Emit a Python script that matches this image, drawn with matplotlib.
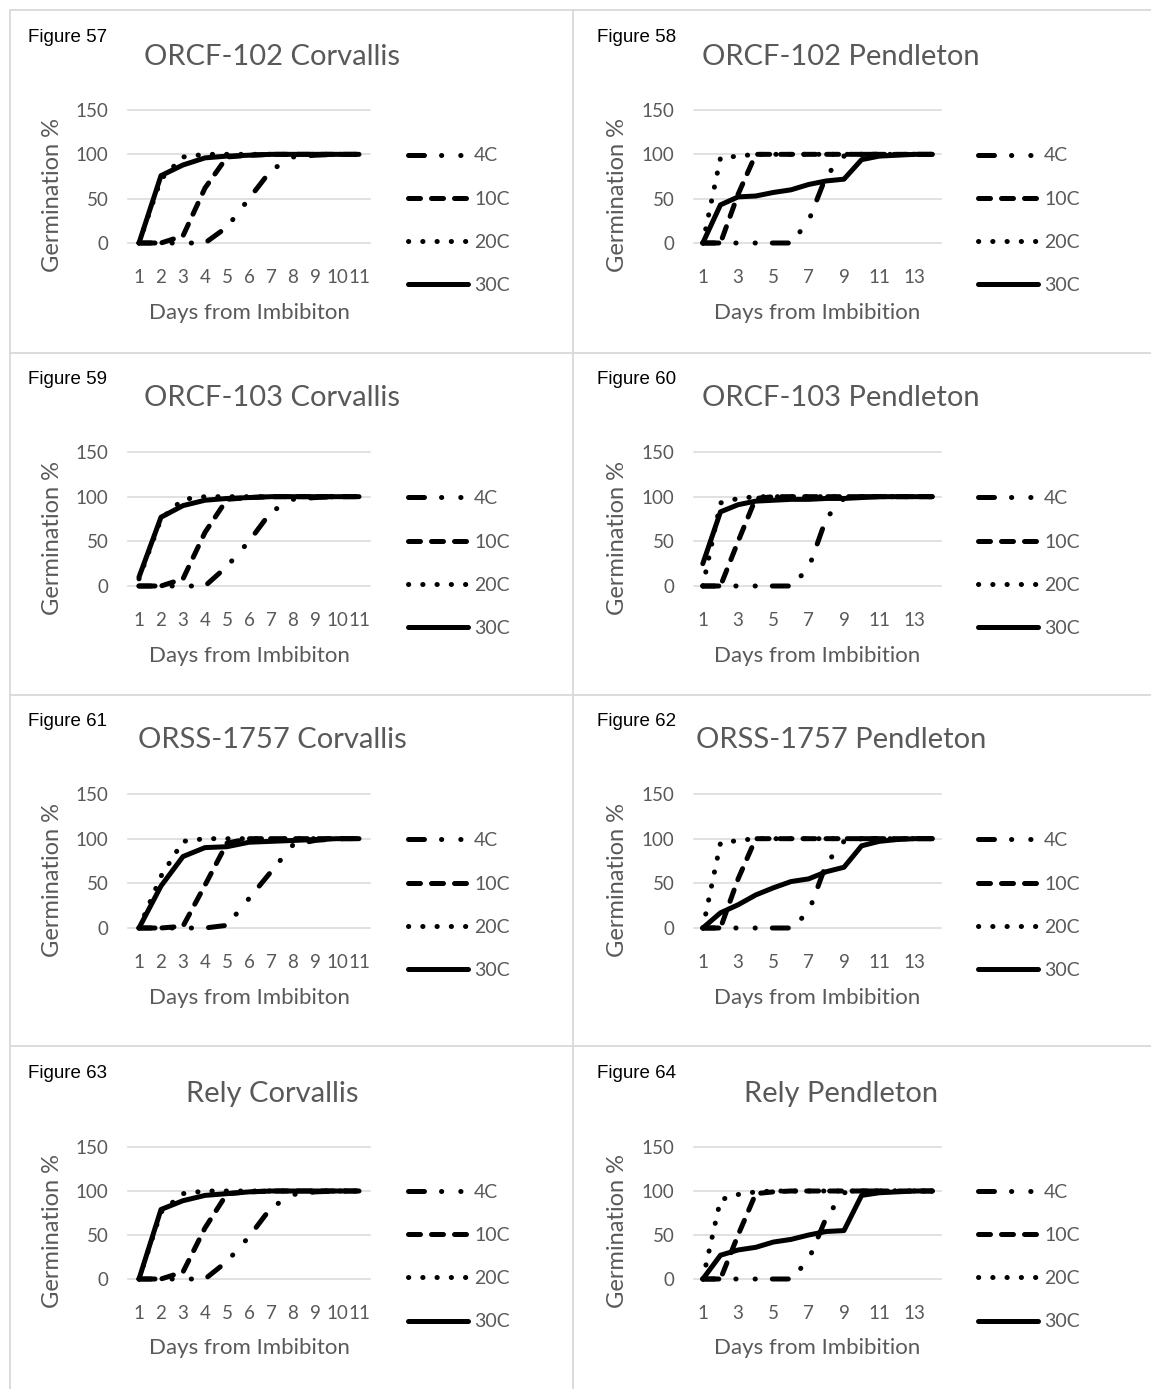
import matplotlib
matplotlib.use("Agg")
import matplotlib.pyplot as plt
from matplotlib.lines import Line2D

W, H = 1151, 1389
GRAY = "#595959"
GRID = "#d9d9d9"
plt.rcParams["font.family"] = ["Lato", "DejaVu Sans"]

# ---- data -------------------------------------------------------------
temps = ["4C", "10C", "20C", "30C"]
days_11 = [1, 2, 3, 4, 5, 6, 7, 8, 9, 10, 11]
days_14 = [1, 2, 3, 4, 5, 6, 7, 8, 9, 10, 11, 12, 13, 14]

fig57_4c = [0, 0, 0, 0, 18, 50, 82, 97, 99, 100, 100]
fig57_10c = [0, 0, 8, 62, 97, 99, 100, 100, 100, 100, 100]
fig57_20c = [0, 72, 97, 100, 100, 100, 100, 100, 100, 100, 100]
fig57_30c = [0, 76, 88, 96, 98, 99, 100, 100, 100, 100, 100]

fig58_4c = [0, 0, 0, 0, 0, 0, 25, 76, 98, 100, 100, 100, 100, 100]
fig58_10c = [0, 0, 55, 100, 100, 100, 100, 100, 100, 100, 100, 100, 100, 100]
fig58_20c = [0, 96, 98, 100, 100, 100, 100, 100, 100, 100, 100, 100, 100, 100]
fig58_30c = [0, 43, 52, 53, 57, 60, 66, 70, 72, 94, 98, 99, 100, 100]

fig59_4c = [0, 0, 0, 0, 22, 50, 83, 97, 99, 100, 100]
fig59_10c = [0, 0, 8, 60, 97, 99, 100, 100, 100, 100, 100]
fig59_20c = [8, 75, 97, 100, 100, 100, 100, 100, 100, 100, 100]
fig59_30c = [10, 77, 90, 96, 98, 99, 100, 100, 100, 100, 100]

fig60_4c = [0, 0, 0, 0, 0, 0, 20, 76, 98, 100, 100, 100, 100, 100]
fig60_10c = [0, 0, 50, 98, 100, 100, 100, 100, 100, 100, 100, 100, 100, 100]
fig60_20c = [0, 93, 98, 100, 100, 100, 100, 100, 100, 100, 100, 100, 100, 100]
fig60_30c = [25, 83, 91, 95, 96, 97, 97, 98, 98, 99, 100, 100, 100, 100]

fig61_4c = [0, 0, 0, 0, 3, 33, 63, 93, 98, 100, 100]
fig61_10c = [0, 0, 2, 48, 95, 100, 100, 100, 100, 100, 100]
fig61_20c = [0, 58, 97, 100, 100, 100, 100, 100, 100, 100, 100]
fig61_30c = [0, 47, 80, 90, 91, 96, 97, 98, 99, 100, 100]

fig62_4c = [0, 0, 0, 0, 0, 0, 18, 72, 97, 100, 100, 100, 100, 100]
fig62_10c = [0, 0, 55, 100, 100, 100, 100, 100, 100, 100, 100, 100, 100, 100]
fig62_20c = [0, 95, 98, 100, 100, 100, 100, 100, 100, 100, 100, 100, 100, 100]
fig62_30c = [0, 17, 26, 37, 45, 52, 55, 63, 68, 92, 97, 99, 100, 100]

fig63_4c = [0, 0, 0, 0, 20, 48, 81, 96, 99, 100, 100]
fig63_10c = [0, 0, 8, 58, 97, 99, 100, 100, 100, 100, 100]
fig63_20c = [0, 76, 97, 100, 100, 100, 100, 100, 100, 100, 100]
fig63_30c = [0, 79, 89, 95, 97, 99, 100, 100, 100, 100, 100]

fig64_4c = [0, 0, 0, 0, 0, 0, 22, 70, 98, 100, 100, 100, 100, 100]
fig64_10c = [0, 0, 50, 97, 99, 100, 100, 100, 100, 100, 100, 100, 100, 100]
fig64_20c = [0, 90, 96, 99, 100, 100, 100, 100, 100, 100, 100, 100, 100, 100]
fig64_30c = [0, 27, 33, 36, 42, 45, 50, 54, 55, 95, 98, 99, 100, 100]

# (figure label, title, x label, days, series, column, row)
panels = [
    ("Figure 57", "ORCF-102 Corvallis", "Days from Imbibiton", days_11,
     [fig57_4c, fig57_10c, fig57_20c, fig57_30c], 0, 0),
    ("Figure 58", "ORCF-102 Pendleton", "Days from Imbibition", days_14,
     [fig58_4c, fig58_10c, fig58_20c, fig58_30c], 1, 0),
    ("Figure 59", "ORCF-103 Corvallis", "Days from Imbibiton", days_11,
     [fig59_4c, fig59_10c, fig59_20c, fig59_30c], 0, 1),
    ("Figure 60", "ORCF-103 Pendleton", "Days from Imbibition", days_14,
     [fig60_4c, fig60_10c, fig60_20c, fig60_30c], 1, 1),
    ("Figure 61", "ORSS-1757 Corvallis", "Days from Imbibiton", days_11,
     [fig61_4c, fig61_10c, fig61_20c, fig61_30c], 0, 2),
    ("Figure 62", "ORSS-1757 Pendleton", "Days from Imbibition", days_14,
     [fig62_4c, fig62_10c, fig62_20c, fig62_30c], 1, 2),
    ("Figure 63", "Rely Corvallis", "Days from Imbibiton", days_11,
     [fig63_4c, fig63_10c, fig63_20c, fig63_30c], 0, 3),
    ("Figure 64", "Rely Pendleton", "Days from Imbibition", days_14,
     [fig64_4c, fig64_10c, fig64_20c, fig64_30c], 1, 3),
]

# ---- layout (pixels) ---------------------------------------------------
col_x = [(128, 370), (694, 941)]
col_legend_x = [408, 978]
col_figlabel_x = [28, 597]
row_y = [(110, 243), (452, 586), (794, 928), (1147, 1279)]
styles = [
    (0, (3.2, 3.4, 0.05, 3.8, 0.05, 3.4)),
    (0, (2.4, 2.2)),
    (0, (0.05, 2.8)),
    "solid",
]

fig = plt.figure(figsize=(W / 100, H / 100), dpi=100)

# cell borders
border = dict(color=GRID, lw=1.3, transform=fig.transFigure)
def hline(y, x0, x1):
    fig.add_artist(Line2D([x0 / W, x1 / W], [1 - y / H, 1 - y / H], **border))
def vline(x, y0, y1):
    fig.add_artist(Line2D([x / W, x / W], [1 - y0 / H, 1 - y1 / H], **border))

for y in [10, 353, 695, 1046]:
    hline(y, 10, W)
vline(10, 10, H)
vline(573, 10, H)

for figlabel, title, xlabel, days, series, col, row in panels:
    x0, x1 = col_x[col]
    ytop, ybot = row_y[row]
    ax = fig.add_axes([x0 / W, 1 - ybot / H, (x1 - x0) / W, (ybot - ytop) / H])
    for vals, ls, name in zip(series, styles, temps):
        ax.plot(days, vals, color="black", lw=3.6, linestyle=ls,
                dash_capstyle="round", solid_capstyle="round",
                solid_joinstyle="round", clip_on=False, label=name)
    ax.set_xlim(0.5, len(days) + 0.5)
    ax.set_ylim(0, 150)
    ax.set_yticks([0, 50, 100, 150])
    if len(days) > 11:
        ax.set_xticks(days[::2])
    else:
        ax.set_xticks(days)
    ax.grid(axis="y", color=GRID, lw=1.1)
    for gl in ax.get_ygridlines():
        gl.set_clip_on(False)
    ax.set_axisbelow(True)
    for s in ax.spines.values():
        s.set_visible(False)
    ax.tick_params(axis="both", length=0, labelsize=13.5, labelcolor=GRAY)
    ax.tick_params(axis="y", pad=14)
    ax.tick_params(axis="x", pad=19)

    ax.set_ylabel("Germination %", fontsize=17, color=GRAY)
    ax.yaxis.set_label_coords(-0.31, 0.36)
    ax.yaxis.label.set_verticalalignment("center")
    ax.set_xlabel(xlabel, fontsize=16, color=GRAY)
    ax.xaxis.set_label_coords(0.5, -0.526)
    ax.xaxis.label.set_verticalalignment("center")

    ax.text(0.595, 1.40, title, transform=ax.transAxes, ha="center",
            va="center", fontsize=21, color=GRAY)
    fig.text(col_figlabel_x[col] / W, 1 - (ybot - 206) / H, figlabel,
             ha="left", va="center", fontsize=13.5, color="black",
             family="Liberation Sans")

    leg_x = (col_legend_x[col] - x0) / (x1 - x0)
    ax.legend(loc="center left", bbox_to_anchor=(leg_x, 25 / 150),
              frameon=False, fontsize=14, labelcolor=GRAY,
              handlelength=3.1, handletextpad=0.3, labelspacing=1.35,
              borderpad=0, borderaxespad=0)

fig.savefig("out.png", dpi=100, facecolor="white")
